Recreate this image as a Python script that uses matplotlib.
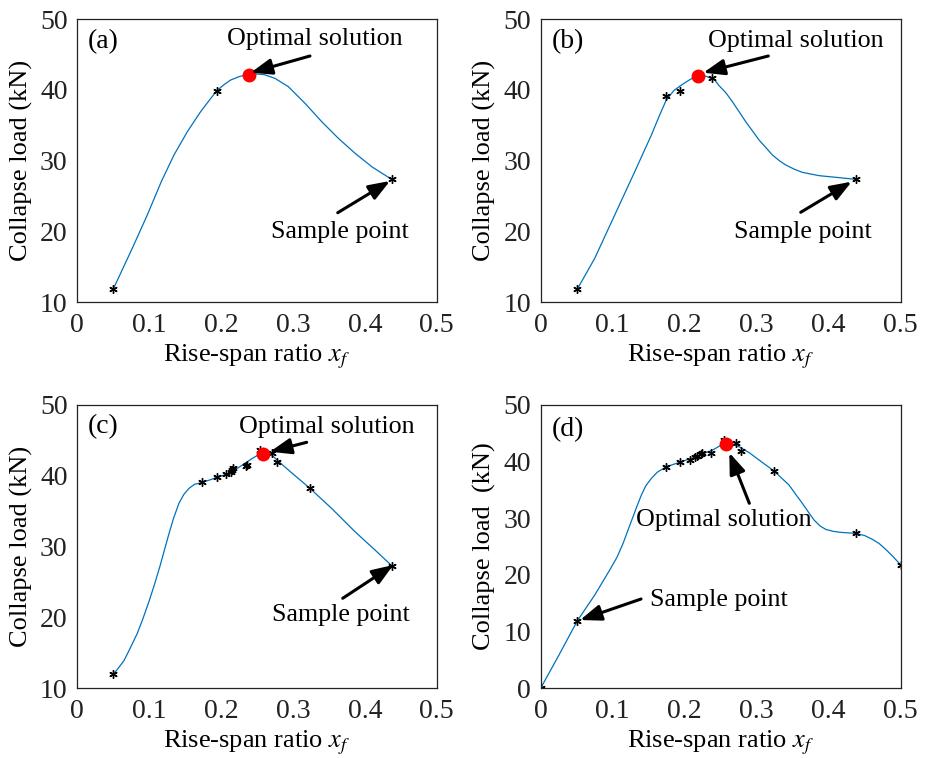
import matplotlib
matplotlib.use('Agg')
import matplotlib.pyplot as plt

plt.rcParams['font.family'] = ['Liberation Serif', 'DejaVu Serif']
plt.rcParams['mathtext.fontset'] = 'stix'

# ---- panel (a) ----
curve_a_x = [0.0501, 0.0765, 0.0974, 0.1169, 0.1345, 0.1531, 0.1716, 0.1939, 0.2050, 0.2134,
             0.2260, 0.2389, 0.2472, 0.2600, 0.2750, 0.2936, 0.3168, 0.3400, 0.3632, 0.3864,
             0.4096, 0.4250, 0.4374]
curve_a_y = [11.88, 17.62, 22.33, 27.04, 30.80, 34.09, 36.92, 39.88, 40.80, 41.39,
             41.90, 42.15, 42.25, 42.15, 41.62, 40.45, 38.09, 35.51, 33.15, 31.04,
             29.15, 28.15, 27.36]
samp_a_x = [0.0501, 0.1939, 0.4374]
samp_a_y = [11.88, 39.88, 27.36]
opt_a = (0.2389, 42.09)

# ---- panel (b) ----
curve_b_x = [0.0509, 0.0750, 0.1028, 0.1306, 0.1537, 0.1650, 0.1745, 0.1850, 0.1954, 0.2080,
             0.2190, 0.2300, 0.2417, 0.2477, 0.2570, 0.2662, 0.2847, 0.3032, 0.3218, 0.3320,
             0.3403, 0.3520, 0.3634, 0.3866, 0.4097, 0.4375]
curve_b_y = [11.88, 16.21, 22.33, 28.45, 33.62, 36.40, 38.60, 39.90, 40.68, 41.50,
             41.95, 41.90, 41.39, 40.59, 39.60, 38.33, 35.51, 32.92, 30.80, 29.95,
             29.39, 28.80, 28.35, 27.88, 27.65, 27.36]
samp_b_x = [0.0509, 0.1745, 0.1940, 0.2380, 0.4375]
samp_b_y = [11.88, 39.08, 39.84, 41.62, 27.36]
opt_b = (0.2190, 42.00)

# ---- panel (c) ----
curve_c_x = [0.0501, 0.0570, 0.0649, 0.0730, 0.0835, 0.0910, 0.0997, 0.1070, 0.1150, 0.1210,
             0.1276, 0.1340, 0.1415, 0.1480, 0.1554, 0.1630, 0.1739, 0.1850, 0.1939, 0.2087,
             0.2160, 0.2226, 0.2300, 0.2365, 0.2440, 0.2514, 0.2588, 0.2650, 0.2704, 0.2800,
             0.2936, 0.3237, 0.3538, 0.3863, 0.4142, 0.4374]
curve_c_y = [11.93, 12.80, 13.86, 15.50, 17.72, 19.70, 22.20, 24.50, 27.20, 29.40,
             31.80, 34.00, 36.10, 37.30, 38.19, 38.75, 39.04, 39.40, 39.74, 40.21,
             40.55, 41.01, 41.50, 41.95, 42.45, 42.89, 43.04, 43.02, 42.89, 42.00,
             40.78, 38.19, 35.36, 32.07, 29.48, 27.27]
samp_c_x = [0.0501, 0.1739, 0.1939, 0.2064, 0.2134, 0.2150, 0.2171, 0.2350, 0.2365,
            0.2542, 0.2704, 0.2774, 0.3237, 0.4374]
samp_c_y = [11.93, 39.04, 39.84, 40.21, 40.54, 40.80, 41.01, 41.40, 41.48,
            43.60, 43.13, 41.95, 38.19, 27.27]
opt_c = (0.2588, 43.04)

# ---- panel (d) ----
curve_d_x = [0.0, 0.0241, 0.0509, 0.0750, 0.0958, 0.1060, 0.1144, 0.1210, 0.1282, 0.1340,
             0.1398, 0.1460, 0.1537, 0.1620, 0.1745, 0.1850, 0.1940, 0.2093, 0.2231, 0.2370,
             0.2450, 0.2519, 0.2579, 0.2660, 0.2755, 0.2900, 0.3032, 0.3241, 0.3449, 0.3540,
             0.3634, 0.3720, 0.3796, 0.3880, 0.3958, 0.4060, 0.4167, 0.4375, 0.4500, 0.4606,
             0.4700, 0.4792, 0.4900, 0.5]
curve_d_y = [0.0, 5.53, 11.88, 16.41, 20.82, 23.10, 25.53, 27.80, 30.24, 32.20,
             34.06, 35.70, 37.00, 38.10, 39.06, 39.50, 39.88, 40.53, 41.24, 41.88,
             42.45, 43.00, 43.18, 43.05, 42.59, 41.50, 40.24, 38.29, 35.82, 34.20,
             32.59, 31.00, 29.65, 28.60, 28.00, 27.65, 27.47, 27.29, 26.90, 26.24,
             25.50, 24.47, 23.10, 21.71]
samp_d_x = [0.0, 0.0509, 0.1745, 0.1940, 0.2069, 0.2139, 0.2176, 0.2222, 0.2241,
            0.2370, 0.2546, 0.2708, 0.2778, 0.3241, 0.4375, 0.5]
samp_d_y = [0.0, 11.88, 39.06, 39.94, 40.24, 40.71, 40.94, 41.29, 41.41,
            41.53, 43.76, 43.18, 41.88, 38.29, 27.29, 21.71]
opt_d = (0.2579, 43.06)

x_ticks = [0, 0.1, 0.2, 0.3, 0.4, 0.5]
x_tick_labels = ['0', '0.1', '0.2', '0.3', '0.4', '0.5']

panels = [
    dict(tag='(a)', cx=curve_a_x, cy=curve_a_y, sx=samp_a_x, sy=samp_a_y, opt=opt_a,
         ylim=(10, 50), ylabel='Collapse load (kN)',
         opt_txt=(0.3307, 47.18), opt_tail=(0.3237, 44.78), opt_head=(0.2412, 42.42),
         smp_txt=(0.3655, 19.93), smp_tail=(0.3623, 22.65), smp_head=(0.4350, 27.13),
         tag_y=46.75, pos=[0.0830, 0.6012, 0.3861, 0.3737]),
    dict(tag='(b)', cx=curve_b_x, cy=curve_b_y, sx=samp_b_x, sy=samp_b_y, opt=opt_b,
         ylim=(10, 50), ylabel='Collapse load (kN)',
         opt_txt=(0.3546, 46.89), opt_tail=(0.3161, 44.78), opt_head=(0.2258, 42.42),
         smp_txt=(0.3643, 19.93), smp_tail=(0.3611, 22.71), smp_head=(0.4319, 27.03),
         tag_y=46.75, pos=[0.5808, 0.6012, 0.3867, 0.3737]),
    dict(tag='(c)', cx=curve_c_x, cy=curve_c_y, sx=samp_c_x, sy=samp_c_y, opt=opt_c,
         ylim=(10, 50), ylabel='Collapse load (kN)',
         opt_txt=(0.3470, 46.92), opt_tail=(0.3191, 44.69), opt_head=(0.2681, 43.36),
         smp_txt=(0.3668, 20.31), smp_tail=(0.3692, 22.67), smp_head=(0.4396, 27.37),
         tag_y=46.89, pos=[0.0830, 0.0923, 0.3861, 0.3738]),
    dict(tag='(d)', cx=curve_d_x, cy=curve_d_y, sx=samp_d_x, sy=samp_d_y, opt=opt_d,
         ylim=(0, 50), ylabel='Collapse load  (kN)',
         opt_txt=(0.2549, 29.65), opt_tail=(0.2897, 32.60), opt_head=(0.2619, 41.53),
         smp_txt=(0.2472, 15.53), smp_tail=(0.1393, 15.71), smp_head=(0.0546, 12.00),
         tag_y=45.53, pos=[0.5808, 0.0923, 0.3867, 0.3738]),
]

fig = plt.figure(figsize=(9.31, 7.58), dpi=100)

for p in panels:
    ax = fig.add_axes(p['pos'])
    ax.plot(p['cx'], p['cy'], color='#0072BD', lw=0.9)
    ax.plot(p['sx'], p['sy'], ls='none', marker=(6, 2, 0), color='k', ms=6, mew=1.0)
    ax.plot([p['opt'][0]], [p['opt'][1]], ls='none', marker='o', color='red', ms=9)

    ax.set_xlim(0, 0.5)
    ax.set_ylim(*p['ylim'])
    ax.set_xticks(x_ticks)
    ax.set_xticklabels(x_tick_labels)
    ax.set_yticks(list(range(p['ylim'][0], 51, 10)))
    ax.tick_params(length=0, labelsize=20, pad=7, colors='#222222')
    ax.tick_params(axis='x', pad=8)
    for s in ax.spines.values():
        s.set_linewidth(0.9)
        s.set_color('#222222')

    ax.set_xlabel('Rise-span ratio $x_f$', fontsize=19, labelpad=3)
    ax.set_ylabel(p['ylabel'], fontsize=19, labelpad=5)

    ax.text(0.015, p['tag_y'], p['tag'], fontsize=20, ha='left', va='center')
    ax.text(p['opt_txt'][0], p['opt_txt'][1], 'Optimal solution', fontsize=18.7,
            ha='center', va='center')
    ax.text(p['smp_txt'][0], p['smp_txt'][1], 'Sample point', fontsize=18.7,
            ha='center', va='center')
    arrow = dict(arrowstyle='-|>,head_length=0.8,head_width=0.3', lw=2.2, color='k',
                 shrinkA=0, shrinkB=0, mutation_scale=16)
    ax.annotate('', xy=p['opt_head'], xytext=p['opt_tail'], arrowprops=arrow)
    ax.annotate('', xy=p['smp_head'], xytext=p['smp_tail'], arrowprops=arrow)

fig.savefig('out.png', dpi=100)
